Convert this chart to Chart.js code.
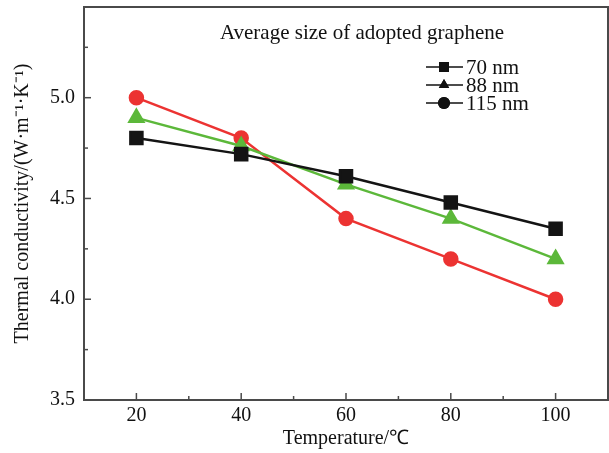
<!DOCTYPE html>
<html>
<head>
<meta charset="utf-8">
<script src="https://cdn.jsdelivr.net/npm/chart.js@4.4.1/dist/chart.umd.min.js"></script>
<style>
  html, body { margin: 0; padding: 0; background: #fff; }
  #wrap { width: 609px; height: 453px; }
</style>
</head>
<body>
<div id="wrap"><canvas id="chart"></canvas></div>
<script>
// Thermal conductivity vs temperature for three graphene sizes
const temperatures = [20, 40, 60, 80, 100];
const size70 = [4.80, 4.72, 4.61, 4.48, 4.35];
const size88 = [4.90, 4.76, 4.57, 4.40, 4.20];
const size115 = [5.00, 4.80, 4.40, 4.20, 4.00];
const seriesLabels = ['70 nm', '88 nm', '115 nm'];

// labelled ticks go to Chart.js, the minor ones are only drawn as marks
const xLabels = [20, 40, 60, 80, 100];
const xMarks = [10, 20, 30, 40, 50, 60, 70, 80, 90, 100, 110];
const yLabels = [3.5, 4.0, 4.5, 5.0];
const yMarks = [3.5, 3.75, 4.0, 4.25, 4.5, 4.75, 5.0, 5.25];

const FONT = "'Liberation Serif', 'Times New Roman', serif";
const AXIS = '#4a4a4a';

const toPoints = vals => vals.map((v, i) => ({ x: temperatures[i], y: v }));

// frame, inward ticks, header and legend
const decor = {
  id: 'decor',
  afterDraw(chart) {
    const { ctx, chartArea: a, scales } = chart;
    ctx.save();
    ctx.strokeStyle = AXIS;
    ctx.lineWidth = 2;
    ctx.strokeRect(a.left, a.top, a.right - a.left, a.bottom - a.top);

    ctx.lineWidth = 1.5;
    xMarks.forEach(v => {
      const px = scales.x.getPixelForValue(v);
      const len = xLabels.includes(v) ? 7 : 4;
      ctx.beginPath();
      ctx.moveTo(px, a.bottom);
      ctx.lineTo(px, a.bottom - len);
      ctx.stroke();
    });
    yMarks.forEach(v => {
      const py = scales.y.getPixelForValue(v);
      const len = yLabels.includes(v) ? 7 : 4;
      ctx.beginPath();
      ctx.moveTo(a.left, py);
      ctx.lineTo(a.left + len, py);
      ctx.stroke();
    });

    ctx.fillStyle = '#111';
    ctx.font = '21px ' + FONT;
    ctx.textAlign = 'center';
    ctx.textBaseline = 'middle';
    ctx.fillText('Average size of adopted graphene', 362, 33);

    // legend: black line through black marker
    const rows = [67, 85, 103];
    const styles = ['rect', 'triangle', 'circle'];
    ctx.textAlign = 'left';
    chart.data.datasets.forEach((ds, i) => {
      const y = rows[i];
      ctx.strokeStyle = '#111';
      ctx.lineWidth = 1.5;
      ctx.beginPath();
      ctx.moveTo(426, y);
      ctx.lineTo(463, y);
      ctx.stroke();
      ctx.fillStyle = '#111';
      Chart.helpers.drawPoint(ctx, { pointStyle: styles[i], radius: i === 0 ? 7 : 6, borderWidth: 0 }, 444, y);
      ctx.fill();
      ctx.fillText(ds.label, 466, y + 1);
    });
    ctx.restore();
  }
};

new Chart(document.getElementById('chart'), {
  type: 'line',
  data: {
    datasets: [
      {
        label: seriesLabels[0], data: toPoints(size70),
        borderColor: '#141414', backgroundColor: '#141414',
        pointStyle: 'rect', pointRadius: 8.5, borderWidth: 2.5, order: 1
      },
      {
        label: seriesLabels[1], data: toPoints(size88),
        borderColor: '#5cb83a', backgroundColor: '#5cb83a',
        pointStyle: 'triangle', pointRadius: 8, borderWidth: 2.5, order: 2
      },
      {
        label: seriesLabels[2], data: toPoints(size115),
        borderColor: '#ec3332', backgroundColor: '#ec3332',
        pointStyle: 'circle', pointRadius: 6.5, borderWidth: 2.5, order: 3
      }
    ]
  },
  options: {
    responsive: true,
    maintainAspectRatio: false,
    animation: false,
    layout: { autoPadding: false, padding: { top: 7, right: 1, left: 0, bottom: 0 } },
    plugins: { legend: { display: false }, tooltip: { enabled: false } },
    scales: {
      x: {
        type: 'linear', min: 10, max: 110,
        grid: { display: false, drawTicks: false },
        border: { display: false },
        afterBuildTicks: s => { s.ticks = xLabels.map(v => ({ value: v })); },
        afterFit: s => { s.height = 53; s.paddingLeft = 0; s.paddingRight = 0; },
        ticks: {
          autoSkip: false, maxRotation: 0, padding: 4,
          color: '#111', font: { family: FONT, size: 20 }
        },
        title: {
          display: true, text: 'Temperature/\u2103', color: '#111',
          font: { family: FONT, size: 20 }, padding: { top: 0, bottom: 2 }
        }
      },
      y: {
        min: 3.5, max: 5.45,
        grid: { display: false, drawTicks: false },
        border: { display: false },
        afterBuildTicks: s => { s.ticks = yLabels.map(v => ({ value: v })); },
        afterFit: s => { s.width = 84; s.paddingTop = 0; s.paddingBottom = 0; },
        ticks: {
          autoSkip: false, padding: 9,
          color: '#111', font: { family: FONT, size: 20 },
          callback: v => v.toFixed(1)
        },
        title: {
          display: true, text: 'Thermal conductivity/(W\u00b7m\u207b\u00b9\u00b7K\u207b\u00b9)',
          color: '#111', font: { family: FONT, size: 20 }, padding: { top: 11, bottom: 2 }
        }
      }
    }
  },
  plugins: [decor]
});
</script>
</body>
</html>
